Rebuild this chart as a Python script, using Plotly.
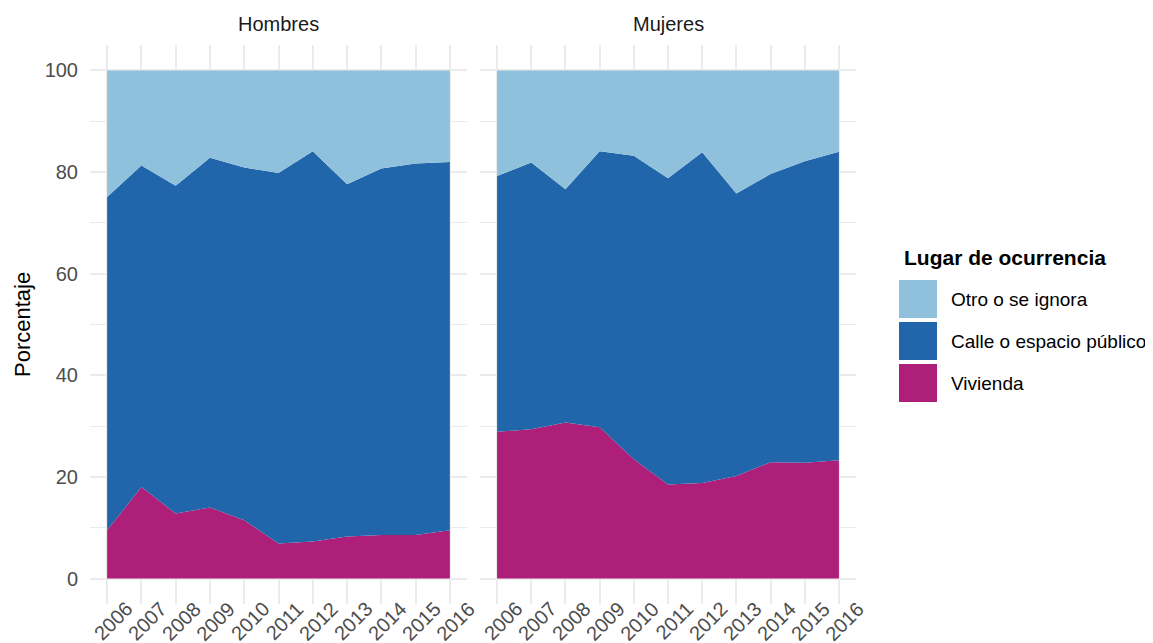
import plotly.graph_objects as go

years = list(range(2006, 2017))
year_labels = [str(y) for y in years]
categories = ["Vivienda", "Calle o espacio público", "Otro o se ignora"]
colors = {"Vivienda": "#ad1f78", "Calle o espacio público": "#2165aa", "Otro o se ignora": "#8fc0dc"}

# Hombres
h_vivienda = [9.5, 18.0, 12.8, 14.0, 11.5, 6.9, 7.3, 8.3, 8.6, 8.6, 9.5]
h_calle = [65.6, 63.3, 64.5, 68.8, 69.4, 72.9, 76.8, 69.3, 72.1, 73.1, 72.5]
h_otro = [24.9, 18.7, 22.7, 17.2, 19.1, 20.2, 15.9, 22.4, 19.3, 18.3, 18.0]

# Mujeres
m_vivienda = [28.9, 29.4, 30.7, 29.8, 23.5, 18.5, 18.8, 20.2, 22.9, 22.8, 23.3]
m_calle = [50.3, 52.5, 45.9, 54.3, 59.7, 60.3, 65.1, 55.6, 56.7, 59.3, 60.7]
m_otro = [20.8, 18.1, 23.4, 15.9, 16.8, 21.2, 16.1, 24.2, 20.4, 17.9, 16.0]

panels = [
    ("Hombres", "x", "y", {"Vivienda": h_vivienda, "Calle o espacio público": h_calle, "Otro o se ignora": h_otro}),
    ("Mujeres", "x2", "y2", {"Vivienda": m_vivienda, "Calle o espacio público": m_calle, "Otro o se ignora": m_otro}),
]

fig = go.Figure()
for name, xa, ya, data in panels:
    for cat in categories:
        fig.add_trace(go.Scatter(
            x=years, y=data[cat], name=cat, mode="lines",
            line=dict(width=0, color=colors[cat]),
            fillcolor=colors[cat], stackgroup=name,
            xaxis=xa, yaxis=ya, showlegend=False,
        ))

font = "Liberation Sans, Arial, Helvetica, sans-serif"
grid = "#ebebeb"
tickc = "#4d4d4d"

xcommon = dict(
    range=[2005.5, 2016.5], tickmode="array", tickvals=years,
    showticklabels=False, showgrid=True, gridcolor=grid, gridwidth=1.6, zeroline=False,
    showline=False, ticks="",
)
ycommon = dict(
    range=[-5, 105], tickvals=[0, 20, 40, 60, 80, 100], showgrid=True, gridcolor=grid, gridwidth=1.6,
    zeroline=False, showline=False, ticks="",
    minor=dict(tickvals=[10, 30, 50, 70, 90], showgrid=True, gridcolor=grid, gridwidth=0.8),
    tickfont=dict(size=20, color=tickc, family=font),
)

# page offset of 8px (body margin) accounted for in margins
W, H = 1153, 643
L, R, T, B = 82, 305, 37, 47
plotw = W - L - R
ploth = H - T - B

def px(x):
    return (x - 8 - L) / plotw

def py(y):
    return (H - B - (y - 8)) / ploth

fig.update_layout(
    width=W, height=H,
    margin=dict(l=L, r=R, t=T, b=B, autoexpand=False),
    paper_bgcolor="white", plot_bgcolor="white",
    font=dict(family=font, color="black"),
    xaxis=dict(domain=[0, px(467)], anchor="y", **xcommon),
    xaxis2=dict(domain=[px(480), 1], anchor="y2", **xcommon),
    yaxis=dict(domain=[0, 1], anchor="x", ticklabelstandoff=11, **ycommon),
    yaxis2=dict(domain=[0, 1], anchor="x2", showticklabels=False, **ycommon),
)

annotations = [
    dict(text="Hombres", x=px(278), y=py(24), xref="paper", yref="paper", showarrow=False,
         font=dict(size=20, color="#1a1a1a"), xanchor="center", yanchor="middle"),
    dict(text="Mujeres", x=px(668), y=py(24), xref="paper", yref="paper", showarrow=False,
         font=dict(size=20, color="#1a1a1a"), xanchor="center", yanchor="middle"),
    dict(text="Porcentaje", x=px(22), y=py(325), xref="paper", yref="paper", showarrow=False,
         textangle=-90, font=dict(size=22, color="black"), xanchor="center", yanchor="middle"),
    dict(text="<b>Lugar de ocurrencia</b>", x=px(902), y=py(257), xref="paper", yref="paper", showarrow=False,
         font=dict(size=21, color="black"), xanchor="left", yanchor="middle"),
]
for xref in ["x", "x2"]:
    for yv, lab in zip(years, year_labels):
        annotations.append(dict(text=lab, x=yv, y=py(621), xref=xref, yref="paper", showarrow=False,
                                textangle=-45, xshift=6, font=dict(size=20, color=tickc),
                                xanchor="center", yanchor="middle"))

shapes = []
legend_items = [("Otro o se ignora", 280, 318), ("Calle o espacio público", 322, 360), ("Vivienda", 364, 402)]
for cat, y0, y1 in legend_items:
    shapes.append(dict(type="rect", xref="paper", yref="paper", x0=px(899), x1=px(937), y0=py(y1), y1=py(y0),
                       fillcolor=colors[cat], line=dict(width=0)))
    annotations.append(dict(text=cat, x=px(949), y=py((y0 + y1) / 2), xref="paper", yref="paper", showarrow=False,
                            font=dict(size=19, color="black"), xanchor="left", yanchor="middle"))

fig.update_layout(annotations=annotations, shapes=shapes)
fig.write_html("out.html")
